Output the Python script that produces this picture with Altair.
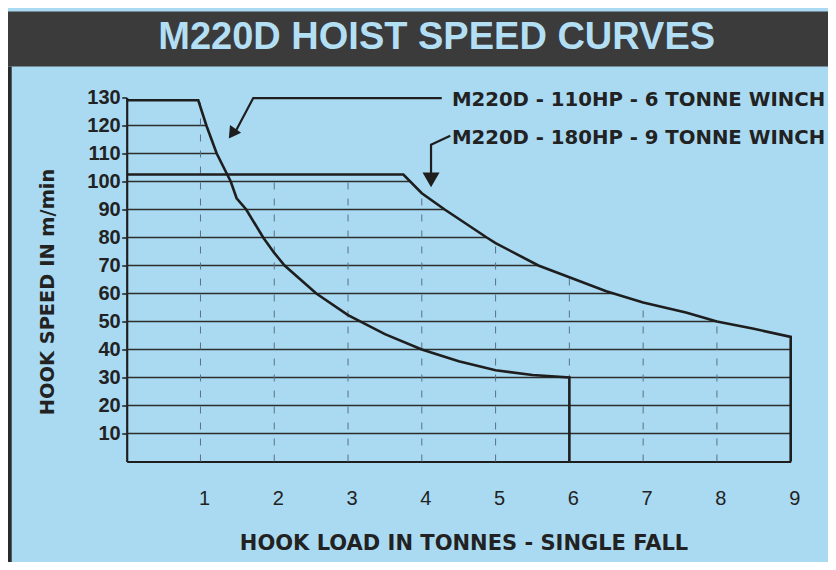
import altair as alt
import pandas as pd

# ---------------- data ----------------
title_text = "M220D HOIST SPEED CURVES"
x_title = "HOOK LOAD IN TONNES - SINGLE FALL"
y_title = "HOOK SPEED IN m/min"

series_names = ["M220D - 110HP - 6 TONNE WINCH", "M220D - 180HP - 9 TONNE WINCH"]

hp110_x = [0, 0.97, 1.08, 1.22, 1.41, 1.49, 1.62, 1.85, 2.0, 2.14, 2.57, 3.0, 3.5, 4.0, 4.5, 5.0, 5.5, 6.0, 6.0]
hp110_y = [129, 129, 120, 110, 100, 94, 90, 80, 74.5, 70, 60, 52.3, 45.5, 40, 35.8, 32.6, 30.9, 30, 0]

hp180_x = [0, 3.75, 4.0, 4.31, 4.88, 5.0, 5.58, 6.0, 6.5, 7.0, 7.58, 8.0, 8.5, 9.0, 9.0]
hp180_y = [102.5, 102.5, 95.8, 90, 80, 78, 70, 65.8, 60.8, 56.8, 53.2, 50, 47.4, 44.5, 0]

x_ticks = [1, 2, 3, 4, 5, 6, 7, 8, 9]
y_ticks = [10, 20, 30, 40, 50, 60, 70, 80, 90, 100, 110, 120, 130]

# horizontal grid lines run from 0 to where they meet the curves
hgrid_y = [10, 20, 30, 40, 50, 60, 70, 80, 90, 100, 110, 120]
hgrid_end = [9, 9, 9, 9, 8.0, 6.6, 5.58, 4.88, 4.31, 3.85, 1.22, 1.08]
# dashed vertical grid lines run from 0 up to the curves
vgrid_x = [1, 2, 3, 4, 5, 6, 7, 8]
vgrid_top = [129, 102.5, 102.5, 95.8, 78, 65.8, 56.8, 50]

# leader lines (data units)
lead1_x = [4.27, 1.715, 1.486]
lead1_y = [129.8, 129.8, 118.4]
lead2_x = [4.386, 4.125, 4.125]
lead2_y = [116.3, 113.1, 103.0]
arrow_x = [1.43, 4.125]
arrow_y = [117.1, 100.6]
arrow_angle = [215, 180]
arrow_size = [185, 290]
label_x = [4.408, 4.408]
label_y = [126.96, 113.46]

# ---------------- styling ----------------
BG = "#a9daf2"
DARK = "#1e1e1e"
xs = alt.Scale(domain=[0, 9], nice=False, zero=False)
ys = alt.Scale(domain=[0, 130], nice=False, zero=False)

curves_df = pd.DataFrame(
    {"x": hp110_x + hp180_x,
     "y": hp110_y + hp180_y,
     "series": [series_names[0]] * len(hp110_x) + [series_names[1]] * len(hp180_x),
     "order": list(range(len(hp110_x))) + list(range(len(hp180_x)))}
)
hgrid_df = pd.DataFrame({"y": hgrid_y, "x": [0] * len(hgrid_y), "x1": hgrid_end})
vgrid_df = pd.DataFrame({"x": vgrid_x, "y": [0] * len(vgrid_x), "y1": vgrid_top})
lead_df = pd.DataFrame(
    {"x": lead1_x + lead2_x, "y": lead1_y + lead2_y,
     "g": ["a"] * 3 + ["b"] * 3, "order": [0, 1, 2, 0, 1, 2]}
)
arrow_df = pd.DataFrame({"x": arrow_x, "y": arrow_y, "angle": arrow_angle, "size": arrow_size})
label_df = pd.DataFrame({"x": label_x, "y": label_y, "text": series_names})
one = pd.DataFrame({"a": [0]})

x_axis = alt.Axis(
    values=x_ticks, grid=False, ticks=False, tickSize=0, format="d",
    domainColor=DARK, domainWidth=2.2,
    labelFont="Liberation Sans", labelFontSize=20, labelColor="#222222",
    labelPadding=43, labelBaseline="alphabetic", labelOffset=3.5, labelFlush=False,
    title=x_title, titleFont="DejaVu Sans", titleFontSize=21, titleFontWeight="bold",
    titleColor="#222222", titleX=336.8, titleY=88.1, titleBaseline="alphabetic", titleAlign="center",
)
y_axis = alt.Axis(
    values=y_ticks, grid=False, ticks=True, tickSize=5, tickColor=DARK, tickWidth=1.5, format="d",
    domainColor=DARK, domainWidth=2.2,
    labelFont="Liberation Sans", labelFontSize=20, labelFontWeight="bold", labelColor="#222222",
    labelPadding=1.5, labelFlush=False,
    title=y_title, titleFont="DejaVu Sans", titleFontSize=19.4, titleFontWeight="bold",
    titleColor="#222222", titleAngle=270, titleX=-73.4, titleY=194,
    titleBaseline="alphabetic", titleAlign="center",
)


def X(field):
    return alt.X(field, scale=xs, axis=x_axis)


def Y(field):
    return alt.Y(field, scale=ys, axis=y_axis)


banner = alt.Chart(one).mark_rect(color="#3b3b3b").encode(
    x=alt.value(-130), x2=alt.value(720), y=alt.value(-86), y2=alt.value(-31)
)
left_bar = alt.Chart(one).mark_rect(color="#2a2a2a").encode(
    x=alt.value(-120.2), x2=alt.value(-115), y=alt.value(-31), y2=alt.value(480)
)
title_mark = alt.Chart(one).mark_text(
    text=title_text, font="Liberation Sans", fontSize=38, fontWeight="bold",
    color="#b3dff4", align="left", baseline="alphabetic",
).encode(x=alt.value(31.6), y=alt.value(-48.2))

hgrid = alt.Chart(hgrid_df).mark_rule(color="#2d2d2d", strokeWidth=1.3).encode(
    x=X("x:Q"), x2="x1:Q", y=Y("y:Q"),
)
vgrid = alt.Chart(vgrid_df).mark_rule(color="#5d6f80", strokeWidth=1, strokeDash=[7, 9]).encode(
    x=X("x:Q"), y=Y("y:Q"), y2="y1:Q",
)
curves = alt.Chart(curves_df).mark_line(color=DARK, strokeWidth=2.6, clip=False).encode(
    x=X("x:Q"), y=Y("y:Q"), detail="series:N", order="order:Q",
)
leaders = alt.Chart(lead_df).mark_line(color=DARK, strokeWidth=2.2, clip=False).encode(
    x=X("x:Q"), y=Y("y:Q"), detail="g:N", order="order:Q",
)
arrows = alt.Chart(arrow_df).mark_point(
    shape="triangle-up", filled=True, color=DARK, opacity=1, clip=False
).encode(
    x=X("x:Q"), y=Y("y:Q"),
    angle=alt.Angle("angle:Q", scale=None),
    size=alt.Size("size:Q", scale=None, legend=None),
)
labels = alt.Chart(label_df).mark_text(
    font="DejaVu Sans", fontSize=19.7, fontWeight="bold", color="#222222",
    align="left", baseline="alphabetic", clip=False,
).encode(
    x=X("x:Q"), y=Y("y:Q"), text="text:N",
)

chart = alt.layer(
    banner, left_bar, title_mark, hgrid, vgrid, curves, leaders, arrows, labels
).properties(
    width=664, height=364,
    padding={"left": 118.7, "top": 89.5, "right": 37.3, "bottom": 100.5},
    autosize=alt.AutoSizeParams(type="none"),
    background=BG,
).configure_view(strokeWidth=0)

chart.save("out.html", embed_options={"renderer": "svg", "actions": False})
